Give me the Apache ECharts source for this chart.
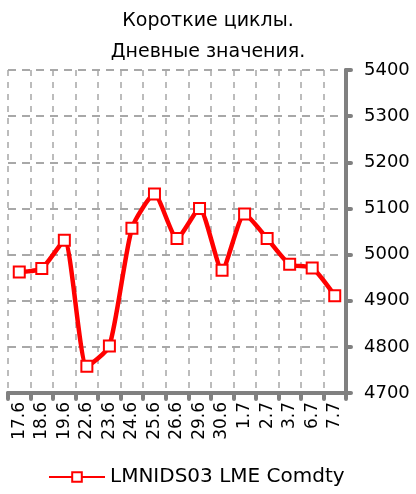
<!DOCTYPE html>
<html>
<head>
<meta charset="utf-8">
<script src="https://cdn.jsdelivr.net/npm/echarts@6/dist/echarts.min.js"></script>
<style>
  html, body { margin: 0; padding: 0; background: #fff; }
  #chart { width: 416px; height: 494px; }
</style>
</head>
<body>
<div id="chart"></div>
<script>
// dates (day.month)
const dates = ['17.6', '18.6', '19.6', '22.6', '23.6', '24.6', '25.6', '26.6', '29.6', '30.6', '1.7', '2.7', '3.7', '6.7', '7.7'];
const values = [4962, 4970, 5031, 4758, 4802, 5057, 5131, 5035, 5100, 4966, 5088, 5035, 4979, 4971, 4911];
const seriesName = 'LMNIDS03 LME Comdty';
const titleLines = ['Короткие циклы.', 'Дневные значения.'];

const chart = echarts.init(document.getElementById('chart'));
const axisGrey = '#808080';

chart.setOption({
    animation: false,
    textStyle: { fontFamily: 'DejaVu Sans' },
    title: {
        text: titleLines.join('\n'),
        left: 'center',
        top: 1,
        textStyle: { fontSize: 19, fontWeight: 'normal', color: '#000', lineHeight: 31, fontFamily: 'DejaVu Sans' }
    },
    legend: {
        bottom: 2,
        left: 43,
        itemWidth: 56,
        itemHeight: 12,
        itemGap: 6,
        textStyle: { fontSize: 20, color: '#000', fontFamily: 'DejaVu Sans' },
        data: [seriesName]
    },
    grid: { left: 8, right: 70, top: 70, bottom: 101 },
    xAxis: {
        type: 'category',
        data: dates,
        boundaryGap: true,
        axisLine: { lineStyle: { color: axisGrey, width: 4, cap: 'round' } },
        axisTick: { show: true, length: 6, lineStyle: { color: axisGrey, width: 4, cap: 'round' } },
        axisLabel: { rotate: 90, fontSize: 17, color: '#000', margin: 9, interval: 0 },
        splitLine: { show: true, lineStyle: { color: '#a6a6a6', width: 1.5, type: [6, 6] } }
    },
    yAxis: {
        type: 'value',
        position: 'right',
        min: 4700,
        max: 5400,
        interval: 100,
        axisLine: { show: true, lineStyle: { color: axisGrey, width: 4, cap: 'round' } },
        axisTick: { show: true, length: 5, lineStyle: { color: axisGrey, width: 4, cap: 'round' } },
        axisLabel: { fontSize: 18, color: '#000', margin: 18, formatter: v => String(v) },
        splitLine: { show: true, lineStyle: { color: '#8c8c8c', width: 1.5, type: [8, 6] } }
    },
    series: [{
        name: seriesName,
        type: 'line',
        data: values,
        smooth: 0.2,
        symbol: 'rect',
        symbolSize: 11,
        itemStyle: { color: '#fff', borderColor: '#ff0000', borderWidth: 2 },
        lineStyle: { color: '#ff0000', width: 4.5 },
        z: 3
    }]
});
</script>
</body>
</html>
